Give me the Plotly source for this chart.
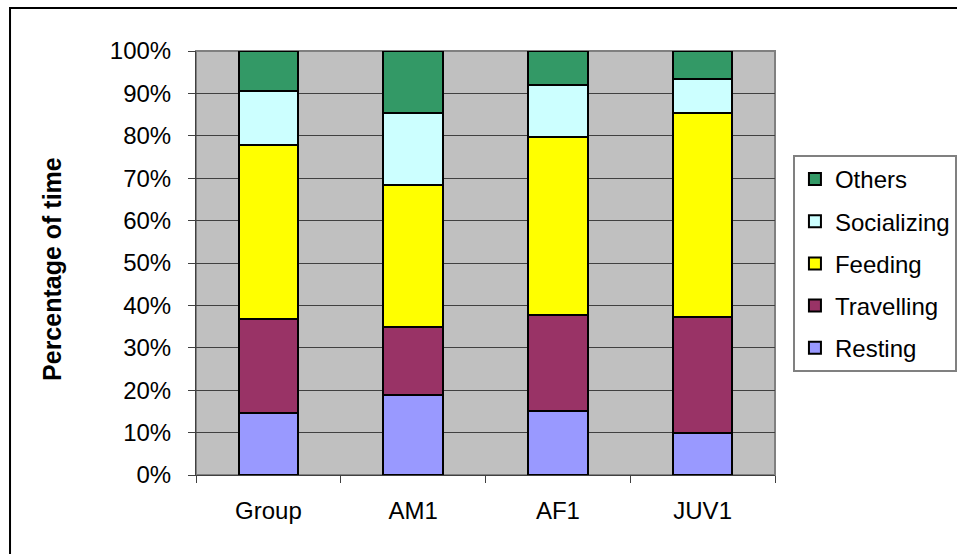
import plotly.graph_objects as go

# Activity budget per individual (share of observation time, %)
categories = ["Group", "AM1", "AF1", "JUV1"]
resting = [14.6, 18.9, 15.1, 9.9]
travelling = [22.2, 16.0, 22.6, 27.4]
feeding = [41.0, 33.5, 42.0, 48.0]
socializing = [12.8, 17.0, 12.3, 8.2]
others = [9.4, 14.6, 8.0, 6.5]

y_ticks = [0, 10, 20, 30, 40, 50, 60, 70, 80, 90, 100]
y_tick_labels = [f"{v}%" for v in y_ticks]

series = [
    ("Resting", resting, "#9999FF"),
    ("Travelling", travelling, "#993366"),
    ("Feeding", feeding, "#FFFF00"),
    ("Socializing", socializing, "#CCFFFF"),
    ("Others", others, "#339966"),
]

FONT = "Liberation Sans, Arial, sans-serif"

fig = go.Figure()
for i, (name, vals, color) in enumerate(series):
    fig.add_trace(go.Bar(
        x=categories, y=vals, name=name, legendgroup=name,
        legendrank=len(series) - i,
        marker=dict(color=color, line=dict(color="black", width=2)),
    ))

fig.update_layout(
    width=957, height=554,
    margin=dict(l=196, r=182, t=51, b=79, autoexpand=False),
    barmode="stack",
    bargap=0.59,
    paper_bgcolor="white",
    plot_bgcolor="#C0C0C0",
    font=dict(family=FONT, size=24, color="black"),
    showlegend=True,
    legend=dict(
        x=1.031, xanchor="left", y=0.755, yanchor="top",
        traceorder="grouped", tracegroupgap=8,
        bordercolor="#808080", borderwidth=2, bgcolor="white",
        font=dict(family=FONT, size=24, color="black"),
    ),
    xaxis=dict(
        showgrid=False, showline=True, linecolor="#404040", linewidth=1,
        ticks="outside", ticklen=7, tickcolor="#404040", tickson="boundaries",
        ticklabelstandoff=14,
        tickfont=dict(family=FONT, size=24),
    ),
    yaxis=dict(
        range=[0, 100], tickvals=y_ticks, ticktext=y_tick_labels,
        showgrid=True, gridcolor="#404040", gridwidth=1,
        showline=True, linecolor="#404040", linewidth=1,
        ticks="outside", ticklen=7, tickcolor="#404040",
        ticklabelstandoff=12, zeroline=False,
        tickfont=dict(family=FONT, size=24),
    ),
    shapes=[
        # plot area frame (top and right edges)
        dict(type="rect", xref="paper", yref="paper", x0=0, y0=0, x1=1, y1=1,
             line=dict(color="#808080", width=2), layer="below"),
        # outer chart border
        dict(type="rect", xref="paper", yref="paper",
             x0=-0.3212, y0=-0.25, x1=1.4, y1=1.1014,
             line=dict(color="black", width=2)),
    ],
    annotations=[
        dict(text="<b>Percentage of time</b>", textangle=-90,
             xref="paper", yref="paper", x=-0.2487, y=0.486,
             xanchor="center", yanchor="middle", showarrow=False,
             font=dict(family=FONT, size=25, color="black")),
    ],
)

fig.write_html("out.html")
